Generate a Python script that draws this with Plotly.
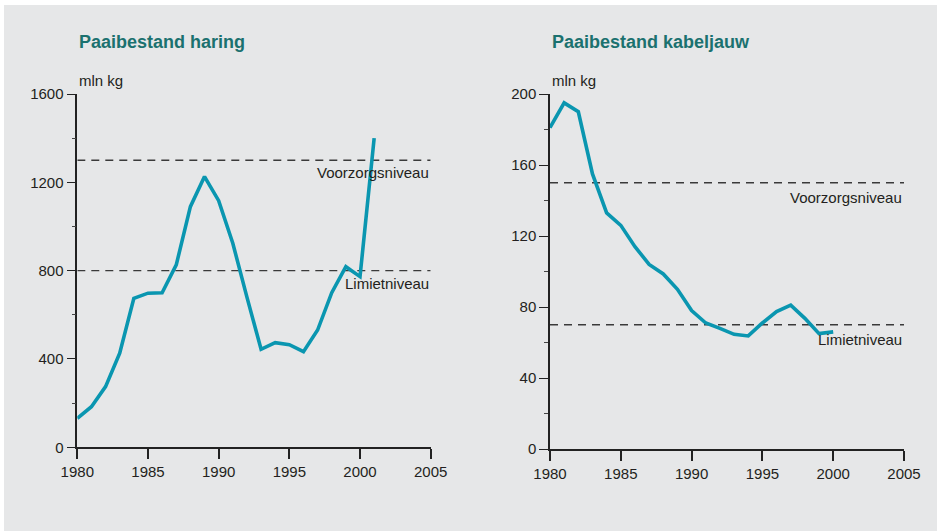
import plotly.graph_objects as go

# ---- data ----
years_haring = list(range(1980, 2002))
haring = [131, 184, 275, 426, 675, 698, 700, 826, 1090, 1226, 1117, 924, 680,
          444, 474, 465, 433, 531, 700, 818, 773, 1400]
haring_voorzorg = 1300
haring_limiet = 800

years_kabeljauw = list(range(1980, 2001))
kabeljauw = [181, 195, 190, 155, 133, 126, 114, 104, 98.6, 90, 78, 71, 68, 64.6,
             63.7, 71, 77.4, 81, 73.6, 65, 66]
kabeljauw_voorzorg = 150
kabeljauw_limiet = 70

x_range = [1980, 2005]
x_ticks = [1980, 1985, 1990, 1995, 2000, 2005]

titles = ["Paaibestand haring", "Paaibestand kabeljauw"]
unit = "mln kg"
label_voorzorg = "Voorzorgsniveau"
label_limiet = "Limietniveau"

W, H = 937, 531
LINE = "#0a96b0"
TEAL = "#1b716f"
BG = "#e6e7e8"
TXT = "#231f20"
FONT = "Liberation Sans, Arial, sans-serif"

fig = go.Figure()

panels = [
    dict(x=years_haring, y=haring, v=haring_voorzorg, l=haring_limiet,
         xa="x", ya="y", xd=[77.3, 430.7], yd=[447.3, 94], yr=[0, 1600], dt=400),
    dict(x=years_kabeljauw, y=kabeljauw, v=kabeljauw_voorzorg, l=kabeljauw_limiet,
         xa="x2", ya="y2", xd=[550, 904], yd=[449, 94], yr=[0, 200], dt=40),
]

for i, p in enumerate(panels):
    for lvl in (p["v"], p["l"]):
        fig.add_trace(go.Scatter(x=x_range, y=[lvl, lvl], mode="lines",
                                 line=dict(color="#3a3a3a", width=1.3, dash="8px,6px"),
                                 xaxis=p["xa"], yaxis=p["ya"], hoverinfo="skip",
                                 showlegend=False))
    fig.add_trace(go.Scatter(x=p["x"], y=p["y"], mode="lines",
                             line=dict(color=LINE, width=3.6),
                             xaxis=p["xa"], yaxis=p["ya"], showlegend=False))
    sfx = "" if i == 0 else "2"
    fig.update_layout(**{
        "xaxis" + sfx: dict(
            domain=[p["xd"][0] / W, p["xd"][1] / W], range=x_range,
            tickmode="array", tickvals=x_ticks, ticks="outside", ticklen=10,
            tickwidth=1.5, tickcolor="#222", showline=True, linecolor="#222",
            linewidth=1.5, showgrid=False, zeroline=False, automargin=False,
            tickfont=dict(family=FONT, size=15, color=TXT),
            anchor="y" + sfx, fixedrange=True),
        "yaxis" + sfx: dict(
            domain=[1 - p["yd"][0] / H, 1 - p["yd"][1] / H], range=p["yr"],
            dtick=p["dt"], tick0=0, ticks="outside", ticklen=9, tickwidth=1.3,
            tickcolor="#222", showline=True, linecolor="#222", linewidth=1.5,
            showgrid=False, zeroline=False, automargin=False,
            minor=dict(dtick=p["dt"] / 2, ticks="outside", ticklen=4,
                       tickwidth=1, tickcolor="#444", showgrid=False),
            tickfont=dict(family=FONT, size=15, color=TXT),
            anchor="x" + sfx, fixedrange=True),
    })
    # titles & unit
    fig.add_annotation(x=p["xd"][0] / W, y=1 - 42 / H, xref="paper", yref="paper",
                       text="<b>" + titles[i] + "</b>", showarrow=False,
                       xanchor="left", yanchor="middle",
                       font=dict(family=FONT, size=18, color=TEAL))
    fig.add_annotation(x=p["xd"][0] / W, y=1 - 80 / H, xref="paper", yref="paper",
                       text=unit, showarrow=False, xanchor="left", yanchor="middle",
                       font=dict(family=FONT, size=15, color=TXT))
    # level labels
    for lvl, txt in ((p["v"], label_voorzorg), (p["l"], label_limiet)):
        fig.add_annotation(x=x_range[1], y=lvl, xref=p["xa"], yref=p["ya"],
                           text=txt, showarrow=False, xanchor="right",
                           yanchor="top", yshift=-2 if i == 0 else -4,
                           font=dict(family=FONT, size=15, color=TXT))
    # white plotting area
    fig.add_shape(type="rect", xref=p["xa"] + " domain", yref=p["ya"] + " domain",
                  x0=0, x1=1, y0=0, y1=1, fillcolor="white", line_width=0,
                  layer="below")

# gray background panel
fig.add_shape(type="rect", xref="paper", yref="paper", x0=4 / W, x1=1.0,
              y0=0, y1=1 - 5 / H, fillcolor=BG, line_width=0, layer="below")

fig.update_layout(width=W, height=H, margin=dict(l=0, r=0, t=0, b=0, autoexpand=False),
                  paper_bgcolor="white", plot_bgcolor="rgba(0,0,0,0)",
                  showlegend=False)

fig.write_html("out.html",
               config={"displayModeBar": False},
               post_script="document.body.style.margin='0';"
                           "document.body.style.overflow='hidden';")
